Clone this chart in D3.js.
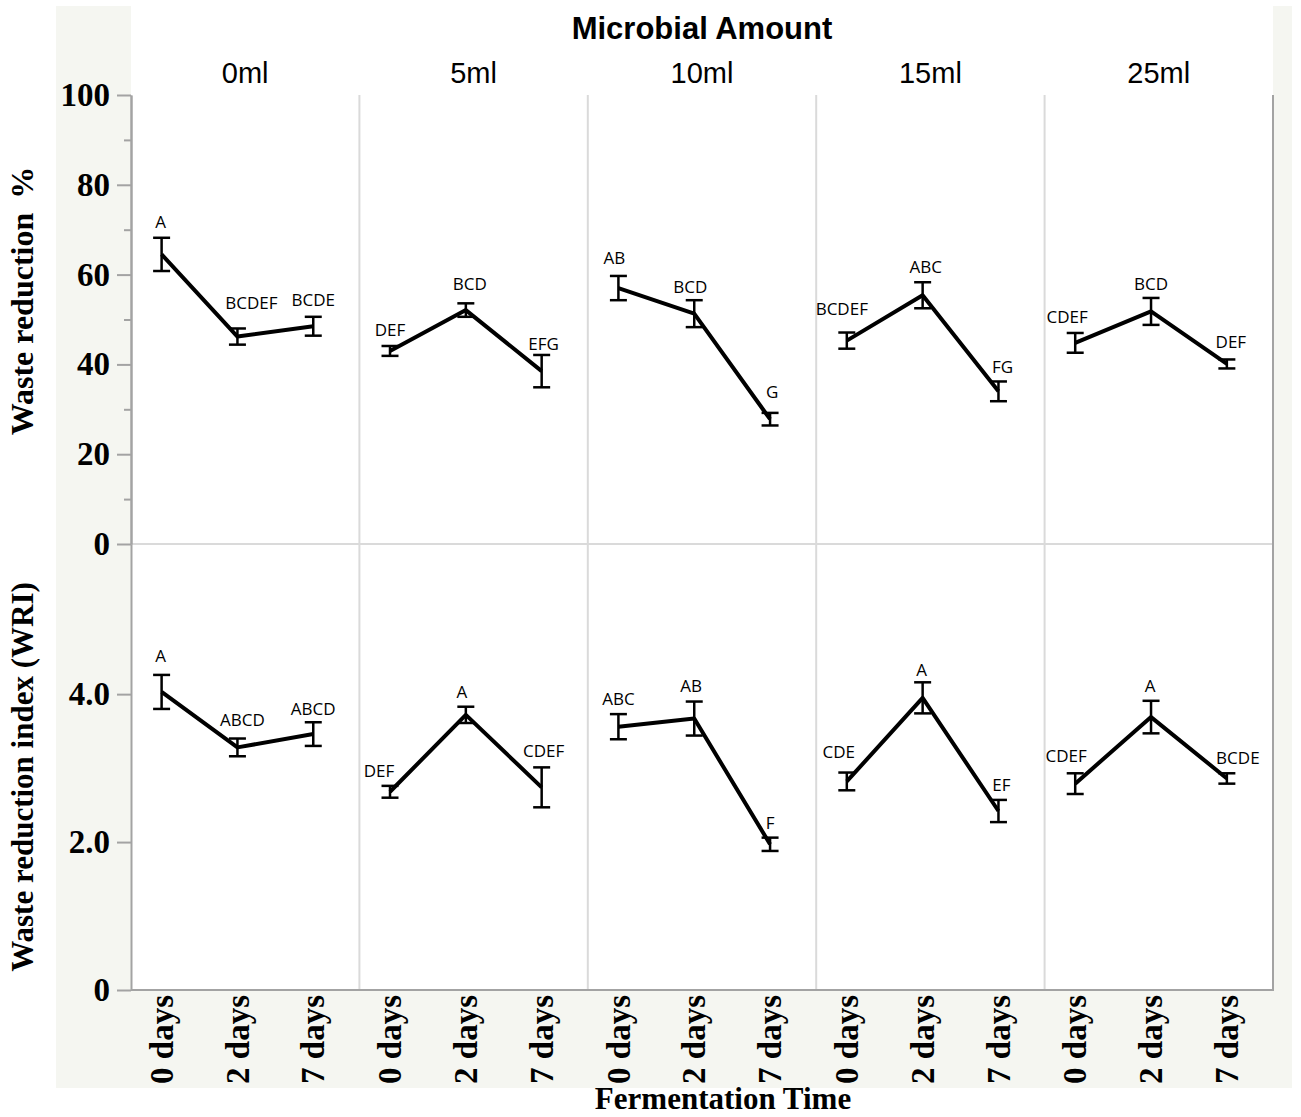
<!DOCTYPE html>
<html>
<head>
<meta charset="utf-8">
<script src="https://cdn.jsdelivr.net/npm/d3@7"></script>
<style>
  html, body { margin: 0; padding: 0; background: #ffffff; }
  svg { display: block; }
</style>
</head>
<body>
<svg id="chart" width="1301" height="1117"></svg>
<script>
// Microbial amount (column facets) and fermentation time (x within each facet)
const amounts = ["0ml", "5ml", "10ml", "15ml", "25ml"];
const times = ["0 days", "2 days", "7 days"];

// Waste reduction %: mean and error per amount × time
const reductionMean = [
  [64.5, 46.2, 48.5],
  [43.0, 52.1, 38.5],
  [57.0, 51.3, 27.8],
  [45.3, 55.4, 34.0],
  [44.8, 51.8, 40.1]
];
const reductionErr = [
  [3.7, 1.8, 2.1],
  [1.1, 1.5, 3.6],
  [2.7, 3.0, 1.4],
  [1.8, 2.9, 2.2],
  [2.2, 3.0, 1.0]
];
const reductionLetters = [
  ["A", "BCDEF", "BCDE"],
  ["DEF", "BCD", "EFG"],
  ["AB", "BCD", "G"],
  ["BCDEF", "ABC", "FG"],
  ["CDEF", "BCD", "DEF"]
];

// Waste reduction index (WRI): mean and error per amount × time
const wriMean = [
  [4.03, 3.28, 3.46],
  [2.68, 3.72, 2.74],
  [3.56, 3.67, 1.97],
  [2.82, 3.95, 2.42],
  [2.79, 3.69, 2.86]
];
const wriErr = [
  [0.23, 0.12, 0.16],
  [0.08, 0.11, 0.27],
  [0.17, 0.23, 0.09],
  [0.12, 0.21, 0.15],
  [0.14, 0.22, 0.07]
];
const wriLetters = [
  ["A", "ABCD", "ABCD"],
  ["DEF", "A", "CDEF"],
  ["ABC", "AB", "F"],
  ["CDE", "A", "EF"],
  ["CDEF", "A", "BCDE"]
];

// Axis ticks
const reductionTicks = [0, 20, 40, 60, 80, 100];
const reductionMinorTicks = [10, 30, 50, 70, 90];
const wriTicks = [0, 2, 4];

// Hand placement of the significance letters: [dx, gap above error cap]
const reductionLetterNudge = [
  [[-1, 10], [14, 19], [0, 11]],
  [[0, 10], [4, 13], [2, 5]],
  [[-4, 12], [-4, 7], [2, 15]],
  [[-5, 18], [3, 9], [4, 8]],
  [[-8, 10], [0, 8], [4, 11]]
];
const wriLetterNudge = [
  [[-1, 13], [5, 13], [0, 7]],
  [[-11, 9], [-4, 9], [2, 10]],
  [[0, 9], [-3, 10], [0, 9]],
  [[-8, 15], [-1, 6], [3, 9]],
  [[-9, 11], [-1, 9], [11, 9]]
];

// ---- layout ----
const svg = d3.select("#chart");
const plotLeft = 131, plotRight = 1273, plotTop = 95, plotMid = 544, plotBottom = 990;
const serif = "'Liberation Serif', 'Times New Roman', serif";
const sans = "'Liberation Sans', Arial, Helvetica, sans-serif";
const axisGrey = "#a3a3a3";
const panelGrey = "#dadada";

// frame backgrounds
svg.append("rect").attr("x", 56).attr("y", 6).attr("width", 1236).attr("height", 1082).attr("fill", "#f5f6f1");
svg.append("rect").attr("x", plotLeft).attr("y", 6).attr("width", plotRight - plotLeft).attr("height", plotBottom - 6).attr("fill", "#ffffff");

const panelX = d3.scaleBand().domain(amounts).range([plotLeft, plotRight]).padding(0);
const bw = panelX.bandwidth();
const timeX = d3.scalePoint().domain(times).range([bw * 0.134, bw * 0.798]);

const yTop = d3.scaleLinear().domain([0, 100]).range([plotMid, plotTop]);
const yBot = d3.scaleLinear().domain([0, 6.03]).range([plotBottom, plotMid]);

// panel separators
svg.append("g").selectAll("line").data(amounts.slice(1)).join("line")
  .attr("x1", d => panelX(d)).attr("x2", d => panelX(d))
  .attr("y1", plotTop).attr("y2", plotBottom)
  .attr("stroke", panelGrey).attr("stroke-width", 2);
svg.append("line")
  .attr("x1", plotLeft).attr("x2", plotRight).attr("y1", plotMid).attr("y2", plotMid)
  .attr("stroke", panelGrey).attr("stroke-width", 2);
// right frame
svg.append("line")
  .attr("x1", plotRight).attr("x2", plotRight).attr("y1", plotTop).attr("y2", plotBottom)
  .attr("stroke", axisGrey).attr("stroke-width", 2);
// bottom axis line
svg.append("line")
  .attr("x1", plotLeft).attr("x2", plotRight + 1).attr("y1", plotBottom).attr("y2", plotBottom)
  .attr("stroke", axisGrey).attr("stroke-width", 2);

// y axes
function styleAxis(g) {
  g.select(".domain").attr("stroke", axisGrey).attr("stroke-width", 2);
  g.selectAll(".tick line").attr("stroke", axisGrey).attr("stroke-width", 2);
  g.selectAll(".tick text")
    .attr("font-family", serif).attr("font-weight", "bold").attr("font-size", 33).attr("fill", "#000");
}
svg.append("g").attr("transform", `translate(${plotLeft},0)`)
  .call(d3.axisLeft(yTop).tickValues(reductionMinorTicks).tickSize(7).tickFormat("").tickSizeOuter(0))
  .call(styleAxis);
svg.append("g").attr("transform", `translate(${plotLeft},0)`)
  .call(d3.axisLeft(yTop).tickValues(reductionTicks).tickSize(14).tickPadding(7).tickSizeOuter(0))
  .call(styleAxis);
svg.append("g").attr("transform", `translate(${plotLeft},0)`)
  .call(d3.axisLeft(yBot).tickValues(wriTicks).tickSize(14).tickPadding(7).tickSizeOuter(0)
    .tickFormat(d => d === 0 ? "0" : d3.format(".1f")(d)))
  .call(styleAxis);

// axis titles
const upperTitle = svg.append("text")
  .attr("transform", "translate(33,301) rotate(-90)")
  .attr("text-anchor", "middle")
  .attr("font-family", serif).attr("font-weight", "bold").attr("font-size", 32);
upperTitle.append("tspan").text("Waste reduction");
upperTitle.append("tspan").attr("dx", 14).text("%");
svg.append("text")
  .attr("transform", "translate(33,777) rotate(-90)")
  .attr("text-anchor", "middle")
  .attr("font-family", serif).attr("font-weight", "bold").attr("font-size", 31)
  .text("Waste reduction index (WRI)");
svg.append("text")
  .attr("x", 723).attr("y", 1109)
  .attr("text-anchor", "middle")
  .attr("font-family", serif).attr("font-weight", "bold").attr("font-size", 31)
  .text("Fermentation Time");

// facet header
svg.append("text")
  .attr("x", (plotLeft + plotRight) / 2).attr("y", 39)
  .attr("text-anchor", "middle")
  .attr("font-family", sans).attr("font-weight", "bold").attr("font-size", 31)
  .text("Microbial Amount");
svg.append("g").selectAll("text").data(amounts).join("text")
  .attr("x", d => panelX(d) + bw / 2).attr("y", 83)
  .attr("text-anchor", "middle")
  .attr("font-family", sans).attr("font-size", 29)
  .text(d => d);

// x tick labels (rotated)
const xLabels = svg.append("g");
amounts.forEach(a => {
  times.forEach(t => {
    xLabels.append("text")
      .attr("transform", `translate(${panelX(a) + timeX(t)},995) rotate(-90)`)
      .attr("text-anchor", "end")
      .attr("dy", "0.34em")
      .attr("font-family", serif).attr("font-weight", "bold").attr("font-size", 33)
      .text(t);
  });
});

// line + error bars + letters for one row of facets
function drawRow(y, means, errs, letters, nudges) {
  const g = svg.append("g");
  amounts.forEach((a, ai) => {
    const pts = times.map((t, ti) => ({
      x: panelX(a) + timeX(t),
      m: means[ai][ti],
      e: errs[ai][ti],
      lab: letters[ai][ti],
      nd: nudges[ai][ti]
    }));
    const cap = 8.5;
    pts.forEach(p => {
      g.append("line").attr("x1", p.x).attr("x2", p.x)
        .attr("y1", y(p.m + p.e)).attr("y2", y(p.m - p.e))
        .attr("stroke", "#000").attr("stroke-width", 2.5);
      [p.m + p.e, p.m - p.e].forEach(v => {
        g.append("line").attr("x1", p.x - cap).attr("x2", p.x + cap)
          .attr("y1", y(v)).attr("y2", y(v))
          .attr("stroke", "#000").attr("stroke-width", 2.5);
      });
    });
    g.append("path").datum(pts)
      .attr("d", d3.line().x(p => p.x).y(p => y(p.m)))
      .attr("fill", "none").attr("stroke", "#000").attr("stroke-width", 4)
      .attr("stroke-linejoin", "round");
    g.selectAll(null).data(pts).join("text")
      .attr("x", p => p.x + p.nd[0])
      .attr("y", p => y(p.m + p.e) - p.nd[1])
      .attr("text-anchor", "middle")
      .attr("font-family", "'Open Sans', 'Noto Sans', sans-serif").attr("font-size", 17)
      .attr("fill", "#000")
      .text(p => p.lab);
  });
}
drawRow(yTop, reductionMean, reductionErr, reductionLetters, reductionLetterNudge);
drawRow(yBot, wriMean, wriErr, wriLetters, wriLetterNudge);
</script>
</body>
</html>
